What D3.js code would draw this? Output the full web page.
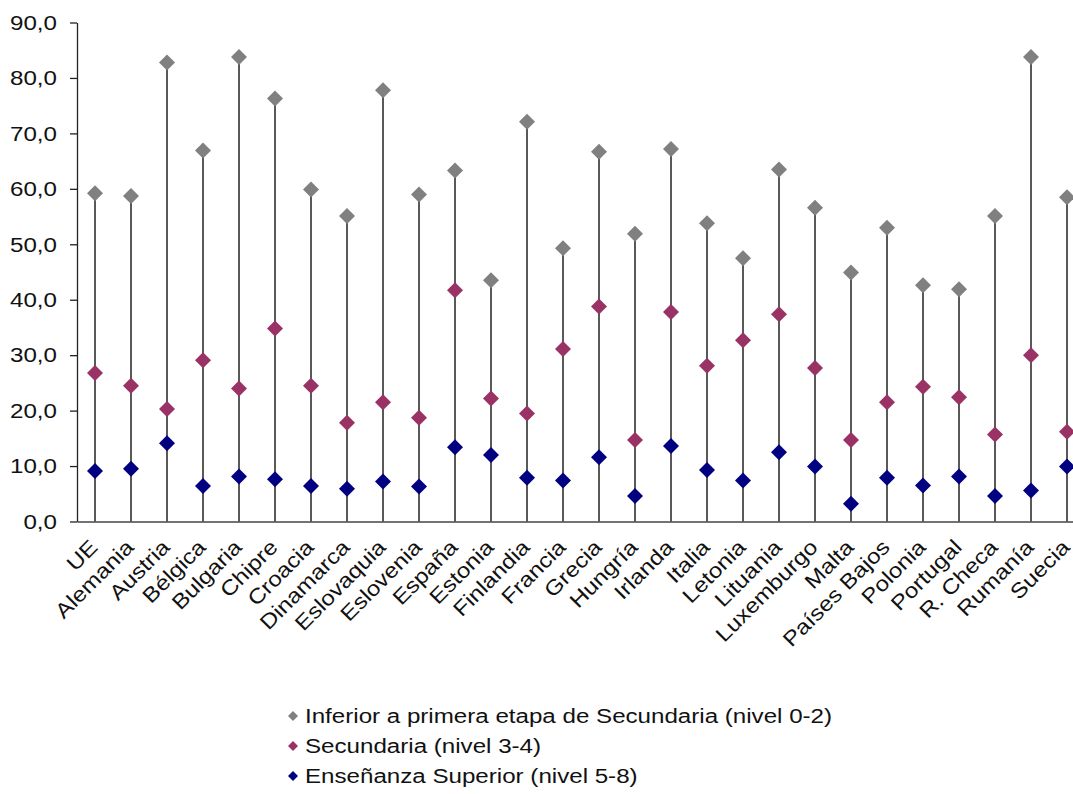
<!DOCTYPE html>
<html>
<head>
<meta charset="utf-8">
<script src="https://cdn.jsdelivr.net/npm/d3@7"></script>
<style>
  html, body { margin: 0; padding: 0; background: #fff; }
  svg { display: block; font-family: "Liberation Sans", Arial, sans-serif; }
</style>
</head>
<body>
<svg id="chart" width="1073" height="794"></svg>
<script>
const categories = ["UE","Alemania","Austria","Bélgica","Bulgaria","Chipre","Croacia","Dinamarca","Eslovaquia","Eslovenia","España","Estonia","Finlandia","Francia","Grecia","Hungría","Irlanda","Italia","Letonia","Lituania","Luxemburgo","Malta","Países Bajos","Polonia","Portugal","R. Checa","Rumanía","Suecia"];
const inferior   = [59.2,58.7,82.8,66.9,83.8,76.3,59.9,55.1,77.8,59.0,63.3,43.5,72.1,49.3,66.7,51.9,67.2,53.8,47.5,63.5,56.6,44.9,53.0,42.6,41.9,55.1,83.8,58.5];
const secundaria = [26.8,24.5,20.3,29.1,24.0,34.8,24.5,17.8,21.5,18.7,41.7,22.2,19.5,31.1,38.8,14.7,37.8,28.1,32.7,37.4,27.7,14.7,21.5,24.3,22.4,15.7,30.0,16.2];
const superior   = [9.1,9.5,14.1,6.4,8.1,7.6,6.4,5.9,7.2,6.3,13.4,12.0,7.9,7.4,11.6,4.6,13.6,9.3,7.4,12.5,9.9,3.2,7.9,6.5,8.1,4.6,5.6,9.9];
const seriesNames = ["Inferior a primera etapa de Secundaria (nivel 0-2)","Secundaria (nivel 3-4)","Enseñanza Superior (nivel 5-8)"];
const seriesColors = ["#808080","#993366","#000080"];
const yTicks = [0,10,20,30,40,50,60,70,80,90];

const svg = d3.select("#chart");
const x = d3.scaleBand().domain(categories).range([77, 1085]).padding(0);
const y = d3.scaleLinear().domain([0, 90]).range([521.5, 22.5]);
const cx = d => x(d) + x.bandwidth() / 2;
const allSeries = [inferior, secundaria, superior];
const fontSize = 21;
const stretch = 1.15;

// y axis
const yAxis = svg.append("g").attr("transform", "translate(77,0)")
  .call(d3.axisLeft(y).tickValues(yTicks).tickSize(7).tickSizeOuter(0)
    .tickFormat(d => d3.format(".1f")(d).replace(".", ",")));
yAxis.select(".domain").attr("stroke", "#222").attr("stroke-width", 1.3);
yAxis.selectAll(".tick line").attr("stroke", "#222").attr("stroke-width", 1.3);
yAxis.selectAll(".tick text").attr("fill", "#111").style("font-size", fontSize + "px")
  .style("font-family", "'Liberation Sans', Arial, sans-serif")
  .attr("x", 0)
  .attr("transform", `translate(-20,0) scale(${stretch},1)`);

// stems
svg.append("g").selectAll("line").data(categories).join("line")
  .attr("x1", d => cx(d)).attr("x2", d => cx(d))
  .attr("y1", y(0))
  .attr("y2", (d, i) => y(Math.max(inferior[i], secundaria[i], superior[i])))
  .attr("stroke", "#222").attr("stroke-width", 1.5);

// x axis
const xAxis = svg.append("g").attr("transform", `translate(0,${y(0)})`)
  .call(d3.axisBottom(x).tickSize(0).tickSizeOuter(0).tickPadding(0));
xAxis.select(".domain").attr("stroke", "#444").attr("stroke-width", 1.5);
xAxis.selectAll(".tick text")
  .attr("text-anchor", "end")
  .attr("fill", "#111")
  .style("font-size", fontSize + "px")
  .style("font-family", "'Liberation Sans', Arial, sans-serif")
  .attr("x", 0).attr("y", 0).attr("dy", 0)
  .attr("transform", `translate(4,27) rotate(-45) scale(${stretch},1)`);

// markers
const diamond = d3.symbol().type(d3.symbolSquare).size(128);
allSeries.forEach((vals, s) => {
  svg.append("g").selectAll("path").data(vals).join("path")
    .attr("d", diamond)
    .attr("transform", (v, i) => `translate(${cx(categories[i])},${y(v)}) rotate(45)`)
    .attr("fill", seriesColors[s]);
});

// legend
const legend = svg.append("g");
const legendSym = d3.symbol().type(d3.symbolSquare).size(50);
seriesNames.forEach((name, i) => {
  const ly = 716 + i * 30;
  legend.append("path").attr("d", legendSym)
    .attr("transform", `translate(293,${ly}) rotate(45)`).attr("fill", seriesColors[i]);
  legend.append("text").attr("x", 0).attr("y", 0).attr("dy", "0.35em")
    .attr("transform", `translate(305,${ly}) scale(${stretch},1)`)
    .attr("fill", "#111").style("font-size", fontSize + "px").text(name);
});
</script>
</body>
</html>
